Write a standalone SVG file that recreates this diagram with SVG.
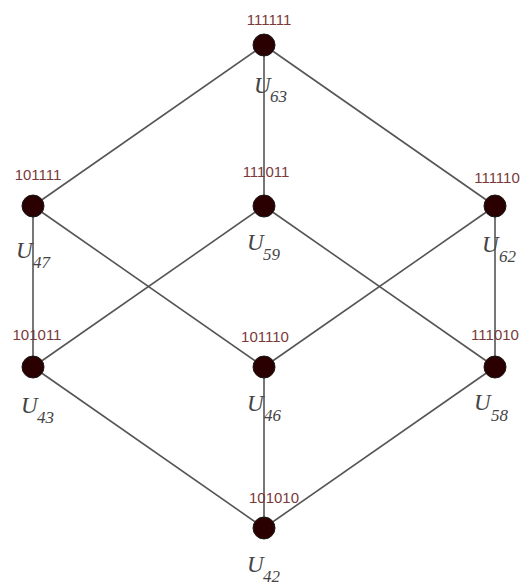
<svg xmlns="http://www.w3.org/2000/svg" width="525" height="585" viewBox="0 0 525 585">
<style>
.e{stroke:#555;stroke-width:1.6;fill:none}
.n{fill:#2a0000;stroke:#1a1a1a;stroke-width:1}
.b{font-family:"Liberation Sans Narrow","Liberation Sans",Arial,sans-serif;font-size:15px;fill:#7a3a3a;text-anchor:middle}
.u{font-family:"Liberation Serif","Times New Roman",serif;font-style:italic;font-size:23px;fill:#444}
.s{font-family:"Liberation Serif","Times New Roman",serif;font-style:italic;font-size:17px;fill:#444}
</style>
<rect width="525" height="585" fill="#fff"/>
<g id="connectors">
<line class="e" x1="264" y1="45" x2="33" y2="206"/>
<line class="e" x1="264" y1="45" x2="264" y2="206"/>
<line class="e" x1="264" y1="45" x2="495" y2="206"/>
<line class="e" x1="33" y1="206" x2="33" y2="367"/>
<line class="e" x1="33" y1="206" x2="264" y2="367"/>
<line class="e" x1="264" y1="206" x2="33" y2="367"/>
<line class="e" x1="264" y1="206" x2="495" y2="367"/>
<line class="e" x1="495" y1="206" x2="264" y2="367"/>
<line class="e" x1="495" y1="206" x2="495" y2="367"/>
<line class="e" x1="33" y1="367" x2="264" y2="528"/>
<line class="e" x1="264" y1="367" x2="264" y2="528"/>
<line class="e" x1="495" y1="367" x2="264" y2="528"/>
</g>
<g id="n111111">
<circle class="n" cx="264" cy="45" r="11"/>
<text class="b" x="269" y="25">111111</text>
<text class="u" x="254" y="93">U</text><text class="s" x="270" y="102">63</text>
</g>
<g id="n101111">
<circle class="n" cx="33" cy="206" r="11"/>
<text class="b" x="38" y="180">101111</text>
<text class="u" x="16" y="258">U</text><text class="s" x="33" y="268">47</text>
</g>
<g id="n111011">
<circle class="n" cx="264" cy="206" r="11"/>
<text class="b" x="266" y="177">111011</text>
<text class="u" x="247" y="250">U</text><text class="s" x="263" y="260">59</text>
</g>
<g id="n111110">
<circle class="n" cx="495" cy="206" r="11"/>
<text class="b" x="497" y="183">111110</text>
<text class="u" x="482" y="252">U</text><text class="s" x="499" y="262">62</text>
</g>
<g id="n101011">
<circle class="n" cx="33" cy="367" r="11"/>
<text class="b" x="37" y="340">101011</text>
<text class="u" x="21" y="413">U</text><text class="s" x="37" y="423">43</text>
</g>
<g id="n101110">
<circle class="n" cx="264" cy="367" r="11"/>
<text class="b" x="265" y="342">101110</text>
<text class="u" x="247" y="411">U</text><text class="s" x="264" y="421">46</text>
</g>
<g id="n111010">
<circle class="n" cx="495" cy="367" r="11"/>
<text class="b" x="495" y="340">111010</text>
<text class="u" x="474" y="410">U</text><text class="s" x="491" y="421">58</text>
</g>
<g id="n101010">
<circle class="n" cx="264" cy="528" r="11"/>
<text class="b" x="274" y="503">101010</text>
<text class="u" x="247" y="572">U</text><text class="s" x="263" y="582">42</text>
</g>
</svg>
